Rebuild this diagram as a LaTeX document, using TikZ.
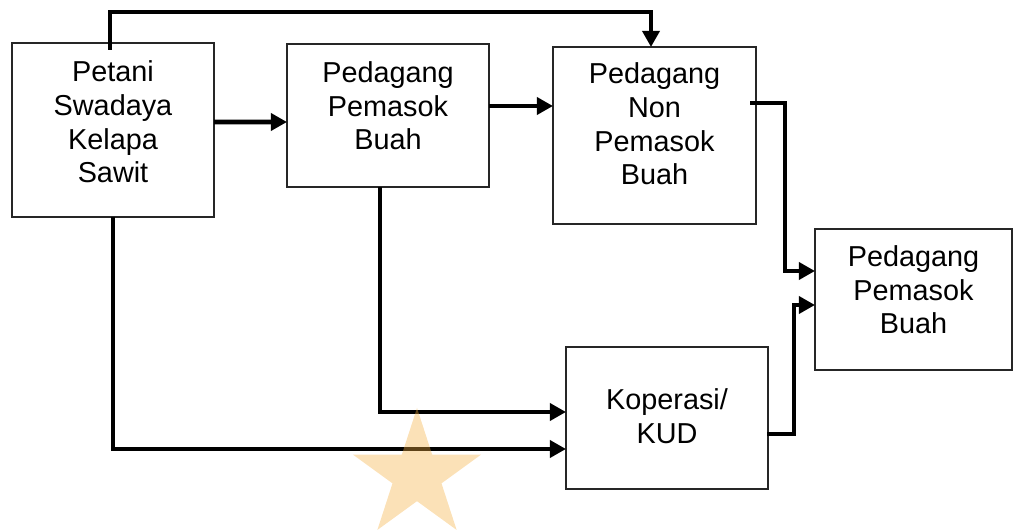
\documentclass[tikz,border=0pt]{standalone}
\usepackage{fontspec}
\setmainfont{Liberation Sans}
\usetikzlibrary{arrows.meta,calc,shapes.geometric}
\definecolor{starorange}{RGB}{245,176,65}

\begin{document}
\begin{tikzpicture}[
      x=0.025cm, y=-0.025cm,
      box/.style={rectangle, draw=black!85, line width=0.8pt, fill=white,
          outer sep=0pt, inner sep=0pt},
      txt/.style={font=\fontsize{20.5}{24}\selectfont, align=center, inner sep=0pt},
      flow/.style={-{Triangle[length=0.4cm, width=0.42cm]}, line width=0.12cm, draw=black},
      watermark/.style={star, star points=5, star point ratio=2.618, minimum size=3.37cm,
          inner sep=0pt, fill=starorange, fill opacity=0.38, draw=none}
  ]
  \useasboundingbox (0,0) rectangle (1014,532);
  \node[box, minimum width=5.05cm, minimum height=4.35cm,
        label={[txt, yshift=0.2cm]center:{Petani\\Swadaya\\Kelapa\\Sawit}}] (petani) at (113,130) {};
  \node[box, minimum width=5.05cm, minimum height=3.575cm,
        label={[txt, yshift=0.24cm]center:{Pedagang\\Pemasok\\Buah}}] (pemasok) at (388,115.5) {};
  \node[box, minimum width=5.075cm, minimum height=4.425cm,
        label={[txt, yshift=0.29cm]center:{Pedagang\\Non\\Pemasok\\Buah}}] (nonpem) at (654.5,135.5) {};
  \node[box, minimum width=4.925cm, minimum height=3.525cm,
        label={[txt, yshift=0.24cm]center:{Pedagang\\Pemasok\\Buah}}] (pemasok2) at (913.5,299.5) {};
  \node[box, minimum width=5.05cm, minimum height=3.55cm,
        label={[txt, yshift=0.05cm]center:{Koperasi/\\KUD}}] (koperasi) at (667,418) {};
  \draw[flow] ($(petani.north)+(-3,7)$) -- ++(0,-38) -| ($(nonpem.north)+(-3.5,0)$);
  \draw[flow] ($(petani.east)+(0,-8)$) -- ($(pemasok.west)+(0,6.5)$);
  \draw[flow] ($(pemasok.east)+(0,-9.5)$) -- ($(nonpem.west)+(0,-29.5)$);
  \draw[flow] ($(nonpem.east)+(-6,-32.5)$) -- ++(35,0) |- ($(pemasok2.west)+(0,-28.5)$);
  \draw[flow] ($(koperasi.east)+(-1,16)$) -- ++(27,0) |- ($(pemasok2.west)+(0,5.5)$);
  \draw[flow] ($(pemasok.south)+(-8,0)$) |- ($(koperasi.west)+(0,-6)$);
  \draw[flow] (petani.south) |- ($(koperasi.west)+(0,31)$);
  \node[watermark] (wmark) at (417,475.4) {};
\end{tikzpicture}
\end{document}
